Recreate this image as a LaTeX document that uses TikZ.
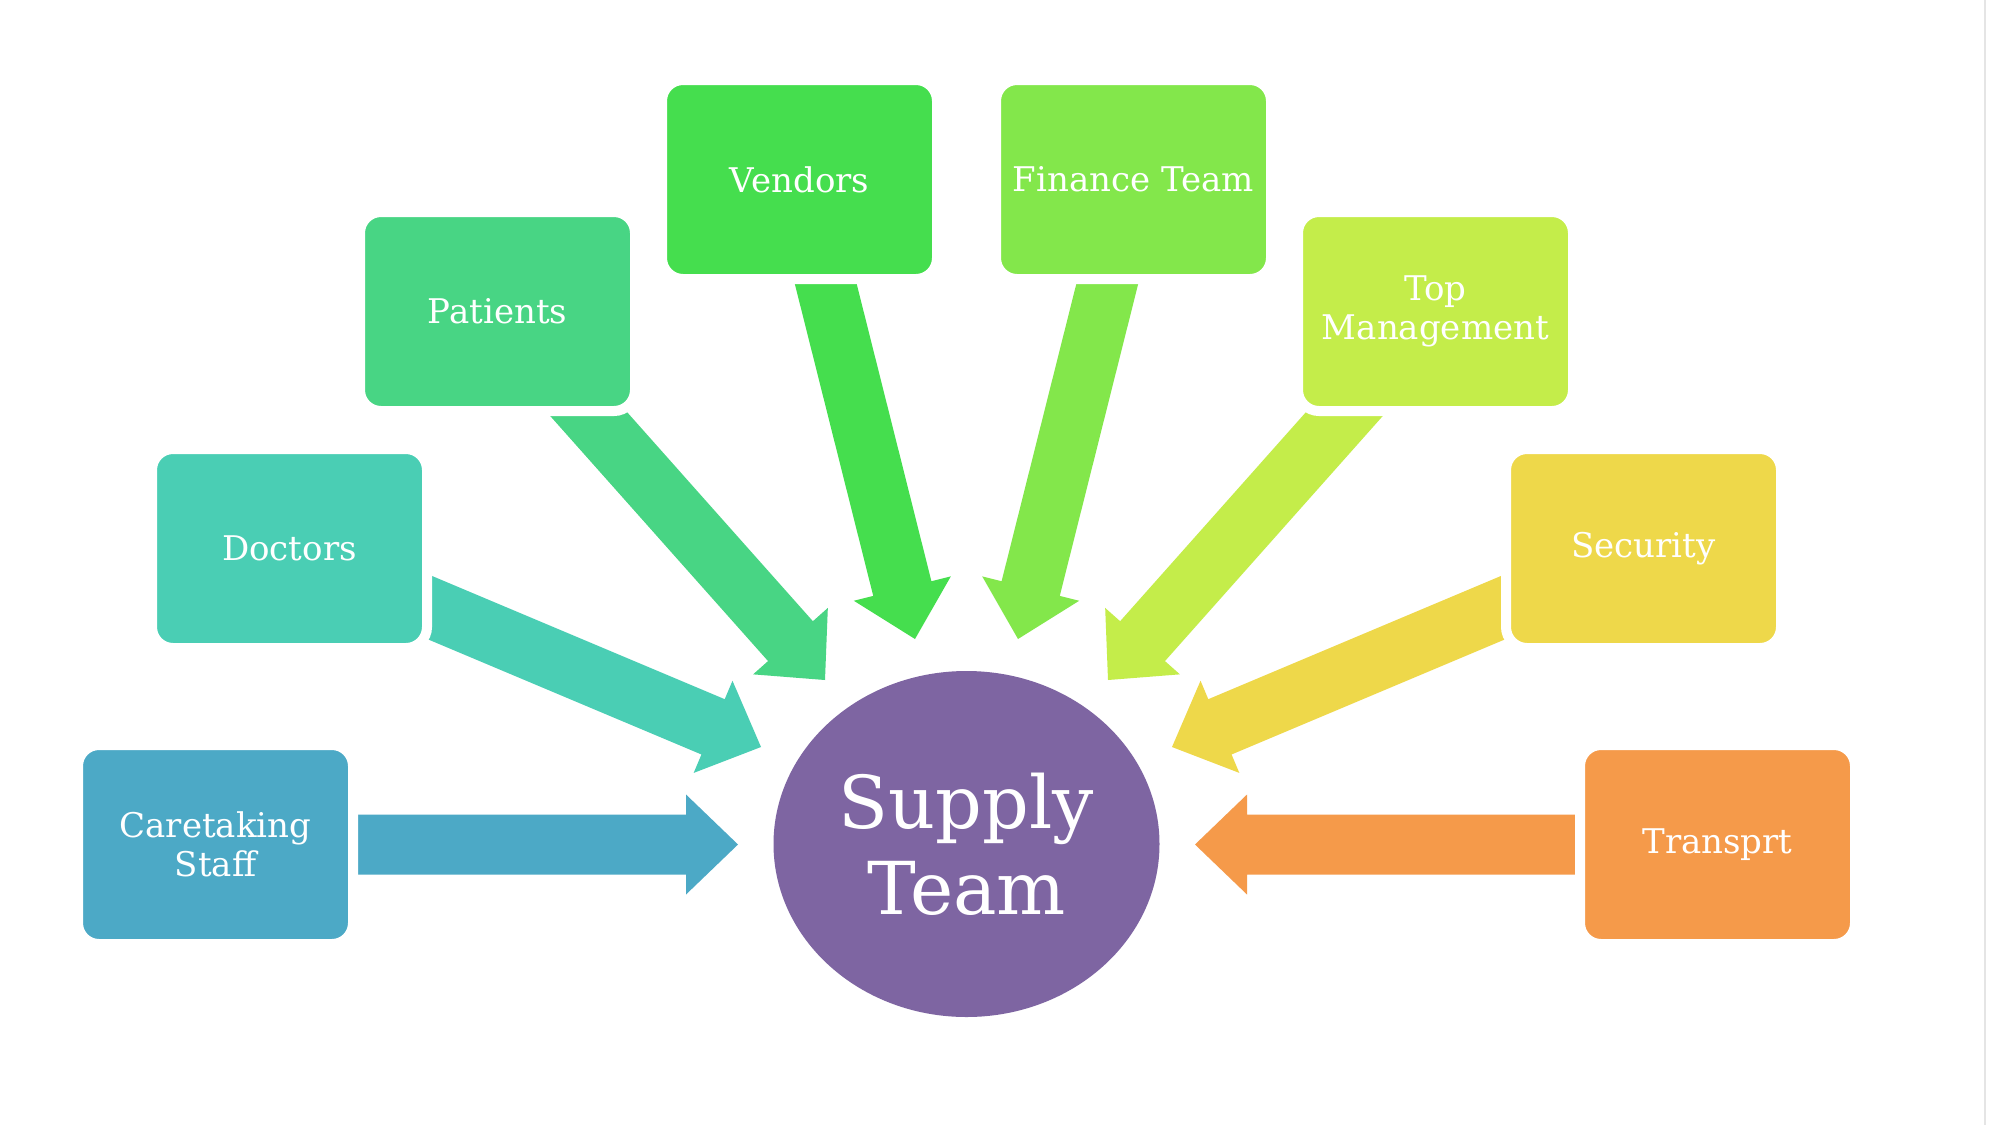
\documentclass[tikz,border=0pt]{standalone}
\usepackage{fontspec}
\setmainfont{DejaVu Serif}
\usetikzlibrary{calc,shapes.geometric,backgrounds}
\definecolor{cCare}{HTML}{4CA9C6}
\definecolor{cDoc}{HTML}{4ACEB4}
\definecolor{cPat}{HTML}{48D584}
\definecolor{cVen}{HTML}{45DE4E}
\definecolor{cFin}{HTML}{83E74B}
\definecolor{cTop}{HTML}{C4ED4A}
\definecolor{cSec}{HTML}{EED84A}
\definecolor{cTra}{HTML}{F59A4A}
\definecolor{cSup}{HTML}{7E65A2}
\tikzset{
  box/.style={rectangle, rounded corners=10.5pt, draw=white, line width=5pt,
    minimum width=137.5pt, minimum height=99.5pt, inner sep=0pt,
    text=white, font=\fontsize{17pt}{19.5pt}\selectfont, align=center},
  hub/.style={ellipse, minimum width=193pt, minimum height=173pt, inner sep=0pt,
    fill=cSup, text=white, font=\fontsize{36.5pt}{43pt}\selectfont, align=center},
}
\newcommand\blockarrow[3]{%
  \fill[#3] let \p1=($(#2)-(#1)$), \n1={atan2(\y1,\x1)} in
    ($(#1)+(\n1+90:15pt)$) --
    ($(#2)+(\n1+180:26pt)+(\n1+90:15pt)$) --
    ($(#2)+(\n1+180:26pt)+(\n1+90:25pt)$) --
    (#2) --
    ($(#2)+(\n1+180:26pt)+(\n1-90:25pt)$) --
    ($(#2)+(\n1+180:26pt)+(\n1-90:15pt)$) --
    ($(#1)+(\n1-90:15pt)$) -- cycle;}
\begin{document}
\begin{tikzpicture}[x=0.5pt,y=-0.5pt]
\useasboundingbox (0,0) rectangle (2001,1125);
% boxes
\node[box, fill=cCare] (care) at (215.5,844.5) {Caretaking\\Staff};
\node[box, fill=cDoc] (doc) at (289.5,548.5) {Doctors};
\node[box, fill=cPat] (pat) at (497.5,311.5) {Patients};
\node[box, fill=cVen] (ven) at (799.5,179.5) {Vendors};
\node[box, fill=cFin] (fin) at (1133.5,179.5) {Finance Team};
\node[box, fill=cTop] (top) at (1435.5,311.5) {Top\\Management};
\node[box, fill=cSec] (sec) at (1643.5,548.5) {Security};
\node[box, fill=cTra] (tra) at (1717.5,844.5) {Transprt};
% hub
\node[hub] (sup) at (966.5,844) {Supply\\Team};
% arrow tips
\coordinate (careT) at (738,844.5);
\coordinate (docT) at (761,747);
\coordinate (patT) at (825,680);
\coordinate (venT) at (915,639);
\coordinate (finT) at (1018,639);
\coordinate (topT) at (1108,680);
\coordinate (secT) at (1172,747);
\coordinate (traT) at (1195,844.5);
\begin{pgfonlayer}{background}
\fill[white] (0,0) rectangle (2001,1125);
\blockarrow{care.center}{careT}{cCare}
\blockarrow{doc.center}{docT}{cDoc}
\blockarrow{pat.center}{patT}{cPat}
\blockarrow{ven.center}{venT}{cVen}
\blockarrow{fin.center}{finT}{cFin}
\blockarrow{top.center}{topT}{cTop}
\blockarrow{sec.center}{secT}{cSec}
\blockarrow{tra.center}{traT}{cTra}
\end{pgfonlayer}
\draw[black!10, line width=1pt] (1985,0) -- (1985,1125);
\end{tikzpicture}
\end{document}
